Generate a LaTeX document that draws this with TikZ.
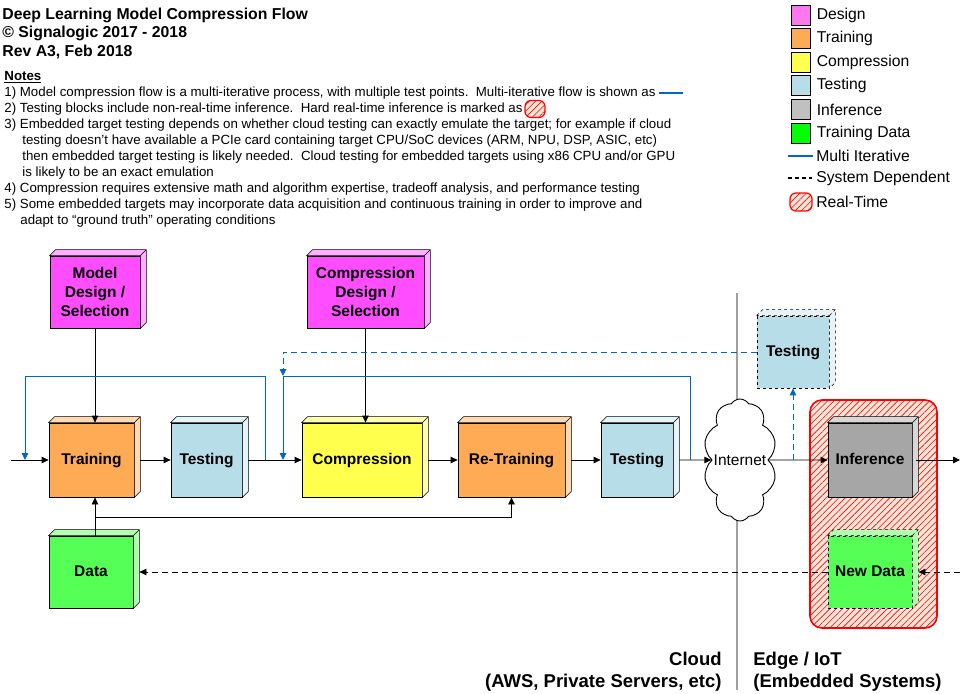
\documentclass[tikz,border=0pt]{standalone}
\usepackage{fontspec}
\setmainfont{Liberation Sans}
\usetikzlibrary{arrows.meta,positioning,shapes.symbols,patterns.meta}

\definecolor{dsgn}{HTML}{FF4DFF}
\definecolor{trng}{HTML}{FFAA55}
\definecolor{cmpr}{HTML}{FFFF4D}
\definecolor{tstg}{HTML}{B7DDE8}
\definecolor{infr}{HTML}{A6A6A6}
\definecolor{tdat}{HTML}{55FF55}
\definecolor{lgdsgn}{HTML}{FF77EE}
\definecolor{lginfr}{HTML}{C0C0C0}
\definecolor{lgtdat}{HTML}{00FF00}
\definecolor{iterblue}{HTML}{0066CC}
\definecolor{rtpink}{HTML}{FDE5D8}
\definecolor{divgrey}{HTML}{A0A0A0}

% top and right faces of a block
\newcommand{\cubeside}[3][]{%
  \filldraw[fill=#3, line width=0.6pt, #1] (#2.north west) -- ++(6,-6)
    -- ([shift={(6,-6)}]#2.north east) -- ([shift={(6,-6)}]#2.south east)
    -- (#2.south east) -- (#2.north east) -- cycle
    (#2.north east) -- ++(6,-6);
}

\tikzset{
  blk/.style={draw, line width=0.8pt, align=center, inner sep=0pt,
    font=\bfseries\fontsize{15.5}{19}\selectfont, minimum height=74pt},
  one/.style={text height=11.5pt, text depth=3pt},
  iter/.style={draw=iterblue, line width=0.9pt},
  sysdep/.style={dash pattern=on 6pt off 4pt},
  rtzone/.style={draw=red, line width=1.6pt, rounded corners=12pt, fill=rtpink,
    postaction={pattern={Lines[angle=45,distance=4.5pt,line width=0.6pt]}, pattern color=red}},
  rticon/.style={rtzone, line width=1.2pt, rounded corners=6pt, minimum width=20pt,
    minimum height=17pt, inner sep=0pt},
  lgbox/.style={draw, line width=0.8pt, minimum width=19pt, minimum height=20pt, inner sep=0pt},
  lgtext/.style={anchor=west, inner sep=0pt, font=\fontsize{15.7}{18}\selectfont}
}

\begin{document}
\begin{tikzpicture}[x=1pt, y=-1pt, line width=0.8pt, >={Triangle[length=7pt,width=6.5pt]}]
\useasboundingbox (0,0) rectangle (962,694);

% header and notes
\node[anchor=north west, align=left, inner sep=0pt, font=\bfseries\fontsize{15.8}{18.5}\selectfont] (title) at (2,7.5)
  {Deep Learning Model Compression Flow\\\textcopyright{} Signalogic 2017 - 2018\\Rev A3, Feb 2018};
\node[anchor=north west, align=left, inner sep=0pt, font=\fontsize{13.3}{16}\selectfont] (notes) at (4,71)
  {\textbf{\underline{Notes}}\\
  1) Model compression flow is a multi-iterative process, with multiple test points.\ \ Multi-iterative flow is shown as\\
  2) Testing blocks include non-real-time inference.\ \ Hard real-time inference is marked as\\
  3) Embedded target testing depends on whether cloud testing can exactly emulate the target; for example if cloud\\
  \hspace*{18pt}testing doesn't have available a PCIe card containing target CPU/SoC devices (ARM, NPU, DSP, ASIC, etc)\\
  \hspace*{18pt}then embedded target testing is likely needed.\ \ Cloud testing for embedded targets using x86 CPU and/or GPU\\
  \hspace*{18pt}is likely to be an exact emulation\\
  4) Compression requires extensive math and algorithm expertise, tradeoff analysis, and performance testing\\
  5) Some embedded targets may incorporate data acquisition and continuous training in order to improve and\\
  \hspace*{16pt}adapt to “ground truth” operating conditions};
\coordinate (nb1) at (659,93);
\coordinate (nb2) at (683,93);
\draw[iter, line width=2.2pt] (nb1) -- (nb2);
\node[rticon] (nrt) at (535,109) {};

% legend
\foreach \c/\t [count=\i] in {lgdsgn/Design, trng/Training, cmpr/Compression, tstg/Testing, lginfr/Inference, lgtdat/Training Data} {
  \node[lgbox, fill=\c] (lg\i) at (800.5,{15+23.6*(\i-1)}) {};
  \node[lgtext, right=6pt of lg\i] (lt\i) {\t};
}
\coordinate (mi1) at (788,156);
\coordinate (mi2) at (813,156);
\draw[iter, line width=2.2pt] (mi1) -- (mi2);
\node[lgtext] (lt7) at (816,156) {Multi Iterative};
\coordinate (sd1) at (788,178);
\coordinate (sd2) at (812,178);
\draw[line width=2pt, dash pattern=on 4pt off 3pt] (sd1) -- (sd2);
\node[lgtext] (lt8) at (816,178) {System Dependent};
\node[rticon, minimum width=22pt, minimum height=18pt] (lg9) at (801,202) {};
\node[lgtext] (lt9) at (816,202) {Real-Time};

% cloud / edge divider and real-time zone
\coordinate (dv1) at (737,293);
\coordinate (dv2) at (737,690);
\draw[divgrey, line width=2pt] (dv1) -- (dv2);
\node[rtzone, minimum width=127pt, minimum height=228pt] (rt) at (873.5,514) {};

% blocks
\node[blk, fill=dsgn, minimum width=90pt, minimum height=72pt] (mds) at (95,292) {Model\\Design /\\Selection};
\cubeside{mds}{dsgn!45!white}
\node[blk, one, fill=trng, minimum width=85pt] (trn) at (91.5,460) {Training};
\cubeside{trn}{trng!45!white}
\node[blk, one, fill=tstg, minimum width=71pt] (tst1) at (206.5,460) {Testing};
\cubeside{tst1}{tstg!35!white}
\node[blk, one, fill=tdat, minimum width=84pt, minimum height=72pt] (data) at (91,572) {Data};
\cubeside{data}{tdat!45!white}
\node[blk, fill=dsgn, minimum width=117pt, minimum height=72pt] (cds) at (365.5,292) {Compression\\Design /\\Selection};
\cubeside{cds}{dsgn!45!white}
\node[blk, one, fill=cmpr, minimum width=120pt] (cmp) at (362,460) {Compression};
\cubeside{cmp}{cmpr!45!white}
\node[blk, one, fill=trng, minimum width=107pt] (rtr) at (511.5,460) {Re-Training};
\cubeside{rtr}{trng!45!white}
\node[blk, one, fill=tstg, minimum width=72pt] (tst2) at (637,460) {Testing};
\cubeside{tst2}{tstg!35!white}
\node[cloud, draw, fill=white, cloud puffs=10, cloud puff arc=115, cloud ignores aspect,
  minimum width=72pt, minimum height=122pt, inner sep=0pt, line width=0.9pt,
  font=\fontsize{15.5}{18}\selectfont] (inet) at (740,460) {Internet};
\node[blk, one, fill=tstg, dashed, minimum width=72pt, minimum height=72pt] (tst3) at (793,352) {Testing};
\cubeside[dashed]{tst3}{tstg!35!white}
\node[blk, one, fill=infr, minimum width=84pt] (inf) at (870,460) {Inference};
\cubeside{inf}{infr!45!white}
\node[blk, one, fill=tdat, dashed, minimum width=84pt, minimum height=72pt] (ndat) at (870,572) {New Data};
\cubeside[dashed]{ndat}{tdat!45!white}

% connectors
\coordinate (in) at (11,460);
\coordinate (out) at (960,460);
\coordinate (ext) at (960,572);
\coordinate (dj) at (95,517);
\coordinate (fb1) at (265,460);
\coordinate (lp1) at (25,460);
\coordinate (fb2) at (690,460);
\coordinate (lp2) at (283,460);
\coordinate (lp3) at (283,376);
\coordinate (up) at (793,460);
\draw[->] (in) -- (trn);
\draw[->] (mds.south) -- (mds.south |- trn.north);
\draw[->] ([xshift=6pt]trn.east) -- (tst1);
\draw[->] ([xshift=6pt]tst1.east) -- (cmp);
\draw[->] (cds.south) -- (cds.south |- cmp.north);
\draw[->] ([xshift=6pt]cmp.east) -- (rtr);
\draw[->] ([xshift=6pt]rtr.east) -- (tst2);
\draw[->] ([xshift=6pt]tst2.east) -- (inet);
\draw[->] (inet) -- (inf);
\draw[->] ([xshift=4pt]inf.east) -- (out);
\draw[->] (data.north -| mds.south) -- (mds.south |- trn.south);
\draw[->] (dj) -| (rtr.south);
\draw[iter, ->] (fb1) -- ++(0,-84) -| (lp1);
\draw[iter, ->] (fb2) -- ++(0,-84) -| (lp2);
\draw[iter, sysdep, ->] (tst3.west) -| (lp3);
\draw[iter, sysdep, ->] (up) -- (tst3.south);
\draw[sysdep, ->] (ext) -- ([xshift=6pt]ndat.east);
\draw[sysdep, ->] (ndat.west) -- ([xshift=6pt]data.east);

% zone labels
\node[anchor=north east, align=right, inner sep=0pt, font=\bfseries\fontsize{18.5}{22}\selectfont] (cldlbl) at (722,651.5)
  {Cloud\\(AWS, Private Servers, etc)};
\node[anchor=north west, align=left, inner sep=0pt, font=\bfseries\fontsize{18.5}{22}\selectfont] (edglbl) at (753,651.5)
  {Edge / IoT\\(Embedded Systems)};
\end{tikzpicture}
\end{document}
